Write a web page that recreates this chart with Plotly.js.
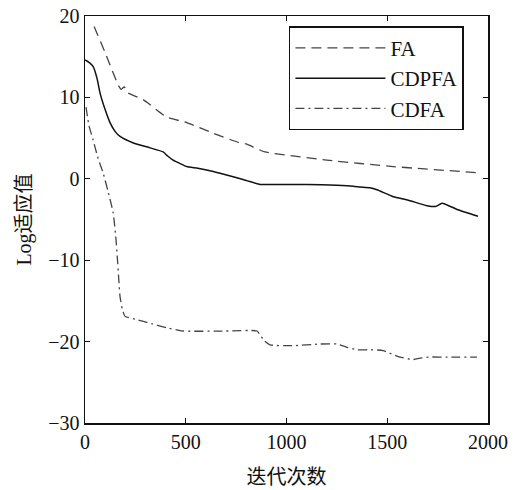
<!DOCTYPE html>
<html>
<head>
<meta charset="utf-8">
<script src="https://cdn.plot.ly/plotly-3.0.1.min.js"></script>
<style>html,body{margin:0;padding:0;background:#fff;}#chart{width:523px;height:490px;}</style>
</head>
<body>
<div id="chart"></div>
<script>
const faX = [45, 100, 165, 180, 195, 210, 290, 405, 505, 637, 770, 800, 835, 893, 1200, 1530, 1950];
const faY = [18.7, 15.5, 11.5, 11.0, 11.3, 10.6, 9.7, 7.6, 6.9, 5.6, 4.4, 4.3, 3.9, 3.3, 2.3, 1.5, 0.75];

const cdpX = [0, 20, 40, 60, 75, 100, 124, 150, 174, 240, 323, 388, 410, 437, 470, 505, 560, 637, 735, 800, 869, 900, 1100, 1250, 1330, 1365, 1414, 1449, 1530, 1600, 1697, 1740, 1772, 1850, 1950];
const cdpY = [14.6, 14.3, 13.8, 12.3, 10.5, 8.5, 6.9, 5.8, 5.2, 4.4, 3.8, 3.3, 2.8, 2.3, 1.9, 1.5, 1.3, 0.9, 0.25, -0.2, -0.7, -0.7, -0.7, -0.8, -0.9, -1.0, -1.1, -1.35, -2.2, -2.6, -3.3, -3.4, -3.0, -3.8, -4.6];

const cdfX = [5, 20, 40, 65, 90, 115, 140, 154, 160, 168, 174, 185, 199, 258, 330, 407, 486, 700, 854, 869, 890, 918, 1032, 1166, 1250, 1300, 1350, 1420, 1479, 1520, 1563, 1628, 1670, 1712, 1800, 1945];
const cdfY = [8.8, 6.5, 4.8, 2.5, 0.7, -1.6, -4.2, -7.5, -9.5, -12.5, -14.5, -16.0, -16.9, -17.3, -17.8, -18.3, -18.7, -18.7, -18.7, -19.2, -19.9, -20.4, -20.5, -20.3, -20.3, -20.7, -21.0, -21.0, -21.1, -21.5, -21.9, -22.2, -22.0, -21.9, -21.9, -21.9];

const xTicks = [0, 500, 1000, 1500, 2000];
const yTicks = [-30, -20, -10, 0, 10, 20];

const serif = "Liberation Serif, Times New Roman, Noto Sans CJK SC, serif";

const traces = [
  {x: faX, y: faY, name: 'FA', mode: 'lines', line: {color: '#444', width: 1.3, dash: '10px,6px', shape: 'spline', smoothing: 0.5}},
  {x: cdpX, y: cdpY, name: 'CDPFA', mode: 'lines', line: {color: '#111', width: 1.5, shape: 'spline', smoothing: 0.5}},
  {x: cdfX, y: cdfY, name: 'CDFA', mode: 'lines', line: {color: '#444', width: 1.3, dash: '9px,4px,2px,4px', shape: 'spline', smoothing: 0.5}}
];

const axisCommon = {
  showgrid: false, zeroline: false, showline: true, linecolor: '#111', linewidth: 1.5,
  mirror: 'ticks', ticks: 'inside', ticklen: 5, tickwidth: 1.2, tickcolor: '#111',
  tickfont: {family: serif, size: 20, color: '#111'}
};

const layout = {
  width: 523, height: 490,
  margin: {l: 85, r: 35, t: 16, b: 67},
  paper_bgcolor: '#fff', plot_bgcolor: '#fff',
  showlegend: true,
  xaxis: Object.assign({}, axisCommon, {
    range: [0, 2000], tickvals: xTicks, ticktext: xTicks.map(String),
    title: {text: '迭代次数', font: {family: serif, size: 20, color: '#111'}, standoff: 18}
  }),
  yaxis: Object.assign({}, axisCommon, {
    range: [-30, 20], tickvals: yTicks, ticktext: yTicks.map(v => v < 0 ? '\u2212' + Math.abs(v) : String(v)),
    title: {text: 'Log适应值', font: {family: serif, size: 20, color: '#111'}, standoff: 11}
  }),
  legend: {
    x: 0.506, y: 0.975, xanchor: 'left', yanchor: 'top',
    bgcolor: '#fff', bordercolor: '#111', borderwidth: 1.5,
    font: {family: serif, size: 21, color: '#111'},
    itemwidth: 90, tracegroupgap: 0,
    entrywidth: 180, entrywidthmode: 'pixels'
  }
};

Plotly.newPlot('chart', traces, layout, {displayModeBar: false, staticPlot: true});
</script>
</body>
</html>
